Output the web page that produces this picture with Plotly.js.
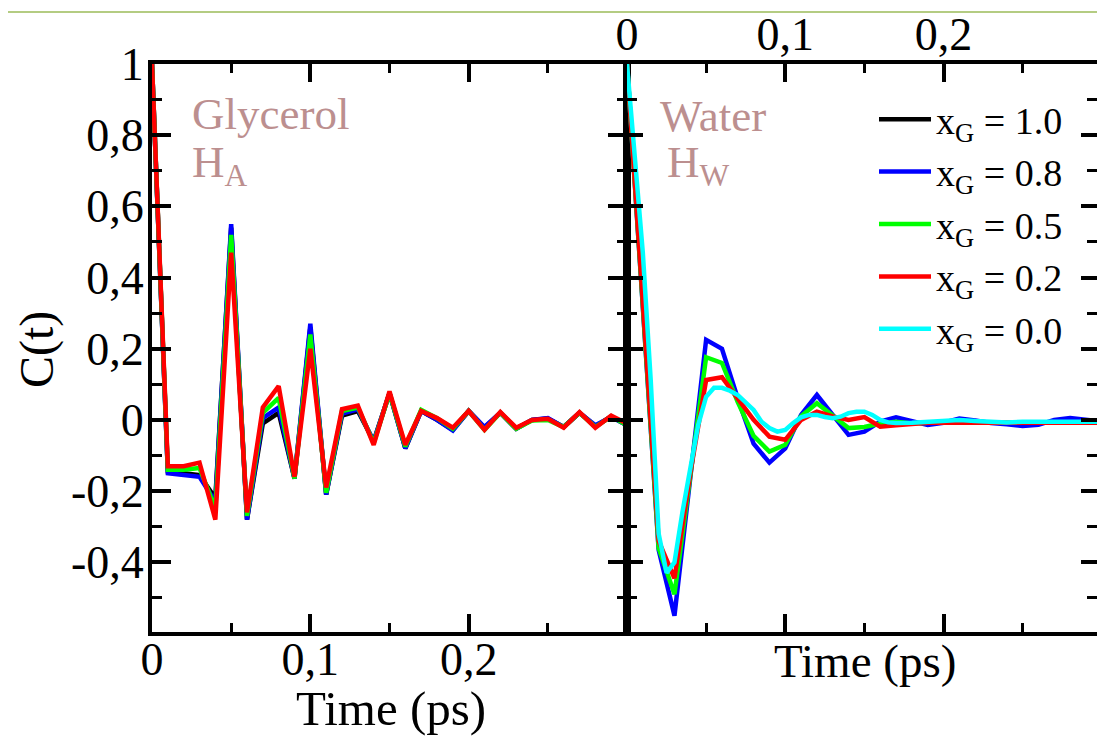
<!DOCTYPE html>
<html>
<head>
<meta charset="utf-8">
<script src="https://cdn.plot.ly/plotly-3.0.1.min.js"></script>
<style>html,body{margin:0;padding:0;background:#fff;}#chart{width:1097px;height:738px;}</style>
</head>
<body>
<div id="chart"></div>
<script>
// ---- Data ----
var timeStep = [0,0.01,0.02,0.03,0.04,0.05,0.06,0.07,0.08,0.09,0.10,0.11,0.12,0.13,0.14,0.15,0.16,0.17,0.18,0.19,0.20,0.21,0.22,0.23,0.24,0.25,0.26,0.27,0.28,0.29,0.30];

// Glycerol H_A (left panel)
var glyX10 = [1.0,-0.145,-0.15,-0.155,-0.22,0.54,-0.28,-0.01,0.02,-0.165,0.26,-0.21,0.012,0.025,-0.06,0.075,-0.08,0.025,0.0,-0.028,0.025,-0.022,0.02,-0.025,0.0,0.004,-0.02,0.02,-0.018,0.01,-0.015];
var glyX08 = [1.0,-0.15,-0.155,-0.16,-0.23,0.55,-0.28,0.005,0.035,-0.165,0.27,-0.21,0.018,0.03,-0.06,0.075,-0.08,0.025,0.0,-0.03,0.025,-0.02,0.02,-0.025,0.0,0.005,-0.02,0.02,-0.015,0.008,-0.015];
var glyX05 = [1.0,-0.14,-0.14,-0.135,-0.25,0.52,-0.27,0.02,0.062,-0.165,0.24,-0.205,0.025,0.035,-0.065,0.075,-0.075,0.028,0.005,-0.025,0.025,-0.028,0.02,-0.025,-0.002,0.0,-0.02,0.02,-0.02,0.01,-0.015];
var glyX02 = [1.0,-0.13,-0.13,-0.12,-0.28,0.47,-0.26,0.035,0.095,-0.16,0.2,-0.19,0.03,0.04,-0.07,0.08,-0.07,0.025,0.005,-0.022,0.025,-0.028,0.022,-0.022,0.0,0.003,-0.022,0.022,-0.022,0.012,-0.01];

// Water H_W (right panel)
var watX08 = [1.0,0.32,-0.365,-0.55,-0.16,0.225,0.2,0.06,-0.067,-0.12,-0.08,0.014,0.07,0.014,-0.042,-0.033,-0.005,0.007,-0.005,-0.014,-0.008,0.004,-0.002,-0.009,-0.012,-0.017,-0.014,0.0,0.005,0.0,-0.005];
var watX05 = [1.0,0.32,-0.36,-0.49,-0.15,0.176,0.16,0.05,-0.045,-0.089,-0.07,0.01,0.047,0.01,-0.023,-0.02,-0.01,-0.005,-0.01,-0.008,-0.008,-0.007,-0.008,-0.008,-0.009,-0.008,-0.008,-0.007,-0.008,-0.008,-0.008];
var watX02 = [1.0,0.33,-0.34,-0.445,-0.15,0.112,0.12,0.06,0.0,-0.047,-0.056,0.0,0.023,0.01,0.0,0.008,-0.019,-0.015,-0.01,-0.008,-0.008,-0.008,-0.007,-0.008,-0.008,-0.008,-0.007,-0.008,-0.008,-0.008,-0.008];

var timeFine = [0,0.005,0.01,0.015,0.02,0.025,0.03,0.035,0.04,0.045,0.05,0.055,0.06,0.065,0.07,0.075,0.08,0.085,0.09,0.095,0.10,0.105,0.11,0.115,0.12,0.125,0.13,0.135,0.14,0.145,0.15,0.155,0.16,0.165,0.17,0.18,0.19,0.20,0.21,0.22,0.23,0.24,0.25,0.26,0.27,0.28,0.29,0.30];
var watX00 = [1.0,0.73,0.47,0.11,-0.32,-0.43,-0.40,-0.26,-0.134,-0.014,0.065,0.09,0.09,0.082,0.07,0.051,0.028,-0.005,-0.023,-0.033,-0.028,-0.009,0.007,0.014,0.014,0.008,0.005,0.009,0.019,0.023,0.023,0.014,0.0,-0.007,-0.009,-0.008,-0.006,-0.002,0.0,-0.003,-0.006,-0.007,-0.005,-0.006,-0.004,-0.005,-0.005,-0.005];

var legendNames = ['x<sub>G</sub> = 1.0','x<sub>G</sub> = 0.8','x<sub>G</sub> = 0.5','x<sub>G</sub> = 0.2','x<sub>G</sub> = 0.0'];
var xTickVals = [0, 0.1, 0.2];
var xTickText = ['0', '0,1', '0,2'];
var yTickVals = [-0.4, -0.2, 0, 0.2, 0.4, 0.6, 0.8, 1];
var yTickText = ['-0,4', '-0,2', '0', '0,2', '0,4', '0,6', '0,8', '1'];

// ---- Styling ----
var colors = {k:'#000000', b:'#0000ff', g:'#00ff00', r:'#ff0000', c:'#00ffff'};
var LW = 4.5;
var serif = 'Liberation Serif';

function tr(x, y, name, color, xa, ya, show, grp) {
  return {x:x, y:y, name:name, type:'scatter', mode:'lines', xaxis:xa, yaxis:ya,
          line:{color:color, width:LW}, showlegend:show, legendgroup:grp, hoverinfo:'skip'};
}

var data = [
  tr(timeStep, glyX10, legendNames[0], colors.k, 'x', 'y', true, 'g1'),
  tr(timeStep, glyX08, legendNames[1], colors.b, 'x', 'y', true, 'g2'),
  tr(timeStep, glyX05, legendNames[2], colors.g, 'x', 'y', true, 'g3'),
  tr(timeStep, glyX02, legendNames[3], colors.r, 'x', 'y', true, 'g4'),
  tr(timeStep, watX08, legendNames[1], colors.b, 'x2', 'y2', false, 'g2'),
  tr(timeStep, watX05, legendNames[2], colors.g, 'x2', 'y2', false, 'g3'),
  tr(timeStep, watX02, legendNames[3], colors.r, 'x2', 'y2', false, 'g4'),
  tr(timeFine, watX00, legendNames[4], colors.c, 'x2', 'y2', true, 'g5')
];

var W = 1097, H = 738;
var xL0 = 152/W, xMid = 627/W;
var yD = [1-632/H, 1-64/H];
var yRange = [-0.596, 1.0];
var tickFont = {family:serif, size:46, color:'#000'};

function minorX(){ return {dtick:0.05, tick0:0, ticks:'inside', ticklen:9, tickwidth:3, tickcolor:'#000'}; }
function minorY(){ return {dtick:0.1, tick0:0, ticks:'inside', ticklen:10, tickwidth:3, tickcolor:'#000'}; }

var layout = {
  width:W, height:H,
  margin:{l:0, r:0, t:0, b:0, pad:0},
  paper_bgcolor:'#fff', plot_bgcolor:'rgba(0,0,0,0)',
  showlegend:true,
  font:{family:serif, color:'#000'},
  xaxis:{domain:[xL0, xMid], range:[0,0.3], anchor:'y',
    tickmode:'array', tickvals:xTickVals, ticktext:xTickText,
    ticks:'inside', ticklen:18, tickwidth:4, tickcolor:'#000',
    minor:minorX(),
    showline:true, linewidth:4, linecolor:'#000', mirror:'ticks',
    showgrid:false, zeroline:false, tickfont:tickFont, ticklabelstandoff:-16},
  yaxis:{domain:yD, range:yRange, anchor:'x',
    tickmode:'array', tickvals:yTickVals, ticktext:yTickText,
    ticks:'inside', ticklen:19, tickwidth:4, tickcolor:'#000',
    minor:minorY(),
    showline:true, linewidth:4, linecolor:'#000', mirror:'ticks',
    showgrid:false, zeroline:false, tickfont:tickFont, ticklabelstandoff:-5},
  xaxis2:{domain:[xMid, 1], range:[0,0.297], anchor:'y2', side:'top',
    tickmode:'array', tickvals:xTickVals, ticktext:xTickText,
    ticks:'inside', ticklen:18, tickwidth:4, tickcolor:'#000',
    minor:minorX(), showticklabels:true,
    showline:true, linewidth:4, linecolor:'#000', mirror:'ticks',
    showgrid:false, zeroline:false, tickfont:tickFont, ticklabelstandoff:-8},
  yaxis2:{domain:yD, range:yRange, anchor:'x2', side:'right',
    tickmode:'array', tickvals:yTickVals,
    ticks:'inside', ticklen:16, tickwidth:4, tickcolor:'#000',
    minor:minorY(), showticklabels:false,
    showline:true, linewidth:4, linecolor:'#000', mirror:'ticks',
    showgrid:false, zeroline:false},
  legend:{x:874/W, y:1-88/H, xanchor:'left', yanchor:'top',
    bgcolor:'rgba(0,0,0,0)', borderwidth:0, traceorder:'grouped', itemwidth:52,
    font:{family:serif, size:38, color:'#000'}, tracegroupgap:0},
  shapes:[{type:'line', xref:'paper', yref:'paper', x0:8/W, x1:1, y0:1-12/H, y1:1-12/H,
    line:{color:'#9bbb59', width:1.5}}],
  annotations:[
    {text:'Glycerol', xref:'paper', yref:'paper', x:190/W, y:1-114/H, xanchor:'left', yanchor:'middle',
      showarrow:false, font:{family:serif, size:45, color:'#bc8f8f'}},
    {text:'H<sub>A</sub>', xref:'paper', yref:'paper', x:190/W, y:1-165/H, xanchor:'left', yanchor:'middle',
      showarrow:false, font:{family:serif, size:45, color:'#bc8f8f'}},
    {text:'Water', xref:'paper', yref:'paper', x:658/W, y:1-116/H, xanchor:'left', yanchor:'middle',
      showarrow:false, font:{family:serif, size:45, color:'#bc8f8f'}},
    {text:'H<sub>W</sub>', xref:'paper', yref:'paper', x:665/W, y:1-165/H, xanchor:'left', yanchor:'middle',
      showarrow:false, font:{family:serif, size:45, color:'#bc8f8f'}},
    {text:'C(t)', xref:'paper', yref:'paper', x:37/W, y:1-350/H, xanchor:'center', yanchor:'middle', textangle:-90,
      showarrow:false, font:{family:serif, size:48, color:'#000'}},
    {text:'Time (ps)', xref:'paper', yref:'paper', x:391/W, y:1-708/H, xanchor:'center', yanchor:'middle',
      showarrow:false, font:{family:serif, size:49, color:'#000'}},
    {text:'Time (ps)', xref:'paper', yref:'paper', x:865/W, y:1-661/H, xanchor:'center', yanchor:'middle',
      showarrow:false, font:{family:serif, size:47, color:'#000'}}
  ]
};

Plotly.newPlot('chart', data, layout, {staticPlot:true, displayModeBar:false});
</script>
</body>
</html>
